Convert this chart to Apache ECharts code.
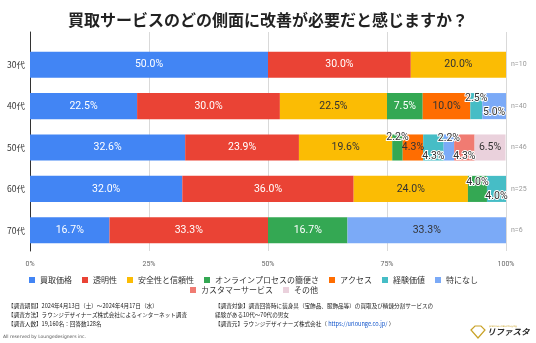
<!DOCTYPE html>
<html>
<head>
<meta charset="utf-8">
<script src="https://cdn.jsdelivr.net/npm/echarts@6/dist/echarts.min.js"></script>
<style>
  html, body { margin: 0; padding: 0; background: #fff; }
  #chart { width: 536px; height: 343px; }
</style>
</head>
<body>
<div id="chart"></div>
<script>
// Age groups (rows, top to bottom) and respondents per group
const ages = ['30代', '40代', '50代', '60代', '70代'];
const sampleSizes = ['n=10', 'n=40', 'n=46', 'n=25', 'n=6'];

// Share of answers per age group (%)
const kaitoriKakaku   = [50.0, 22.5, 32.6, 32.0, 16.7]; // 買取価格
const toumeisei       = [30.0, 30.0, 23.9, 36.0, 33.3]; // 透明性
const anzenShinrai    = [20.0, 22.5, 19.6, 24.0, 0];    // 安全性と信頼性
const onlineKanben    = [0,    7.5,  2.2,  4.0,  16.7]; // オンラインプロセスの簡便さ
const access          = [0,    10.0, 4.3,  0,    0];    // アクセス
const keikenKachi     = [0,    2.5,  4.3,  4.0,  0];    // 経験価値
const tokuniNashi     = [0,    5.0,  2.2,  0,    33.3]; // 特になし
const customerService = [0,    0,    4.3,  0,    0];    // カスタマーサービス
const sonota          = [0,    0,    6.5,  0,    0];    // その他

const xTicks = [0, 25, 50, 75, 100];

const seriesDefs = [
  { name: '買取価格', values: kaitoriKakaku, color: '#4285F4', ink: '#ffffff' },
  { name: '透明性', values: toumeisei, color: '#EA4335', ink: '#ffffff' },
  { name: '安全性と信頼性', values: anzenShinrai, color: '#FBBC04', ink: '#333333' },
  { name: 'オンラインプロセスの簡便さ', values: onlineKanben, color: '#34A853', ink: '#ffffff' },
  { name: 'アクセス', values: access, color: '#FF6D01', ink: '#333333' },
  { name: '経験価値', values: keikenKachi, color: '#46BDC6', ink: '#333333' },
  { name: '特になし', values: tokuniNashi, color: '#7BAAF7', ink: '#333333' },
  { name: 'カスタマーサービス', values: customerService, color: '#F07B72', ink: '#333333' },
  { name: 'その他', values: sonota, color: '#EAD1DC', ink: '#333333' }
];

// Narrow segments get their label shifted up/down so neighbours don't collide
// key: seriesIndex-rowIndex -> vertical offset in px
const labelShift = {
  '5-1': -8, '6-1': 6,
  '3-2': -10, '5-2': 9, '6-2': -9, '7-2': 9,
  '3-3': -7, '5-3': 7
};

const FONT_JP = '"Noto Sans CJK JP", "Noto Sans", sans-serif';
const FONT_NUM = 'Roboto, "Noto Sans", sans-serif';

const series = seriesDefs.map((def, si) => ({
  name: def.name,
  type: 'bar',
  stack: 'total',
  xAxisIndex: 1,
  yAxisIndex: 1,
  barCategoryGap: '37%',
  itemStyle: { color: def.color },
  data: def.values.map((v, ri) => {
    const item = { value: v };
    const shift = labelShift[si + '-' + ri];
    if (shift !== undefined) {
      item.label = {
        offset: [0, shift],
        color: '#333333',
        textBorderColor: '#ffffff',
        textBorderWidth: 2
      };
    }
    return item;
  }),
  label: {
    show: true,
    position: 'inside',
    color: def.ink,
    fontFamily: FONT_NUM,
    fontSize: 10.5,
    formatter: p => (p.value > 0 ? p.value.toFixed(1) + '%' : '')
  },
  emphasis: { disabled: true }
}));

const legendCommon = {
  orient: 'horizontal',
  icon: 'rect',
  itemWidth: 6,
  itemHeight: 6,
  itemGap: 10,
  padding: 0,
  selectedMode: false,
  textStyle: { fontFamily: FONT_JP, fontSize: 8, color: '#333' }
};

const chart = echarts.init(document.getElementById('chart'), null, { renderer: 'canvas' });

chart.setOption({
  animation: false,
  backgroundColor: '#ffffff',
  title: {
    text: '買取サービスのどの側面に改善が必要だと感じますか？',
    left: 'center',
    top: 7,
    textStyle: { fontFamily: FONT_JP, fontSize: 16, fontWeight: 'bold', color: '#222' }
  },
  legend: [
    Object.assign({}, legendCommon, {
      left: 29, top: 276,
      data: seriesDefs.slice(0, 7).map(d => d.name)
    }),
    Object.assign({}, legendCommon, {
      left: 190, top: 286,
      data: seriesDefs.slice(7).map(d => d.name)
    })
  ],
  grid: [
    { left: 30, right: 30, top: 32, bottom: 92 },   // frame: gridlines + baseline
    { left: 30, right: 30, top: 44, bottom: 92 }    // bars
  ],
  xAxis: [
    {
      gridIndex: 0, type: 'value', min: xTicks[0], max: xTicks[xTicks.length - 1], interval: 25,
      axisLine: { show: false }, axisTick: { show: false }, axisLabel: { show: false },
      splitLine: { show: true, lineStyle: { color: '#d9d9d9', width: 1 } }
    },
    {
      gridIndex: 1, type: 'value', min: xTicks[0], max: xTicks[xTicks.length - 1], interval: 25,
      axisLine: { show: false }, axisTick: { show: false },
      splitLine: { show: false },
      axisLabel: { formatter: '{value}%', fontFamily: FONT_NUM, fontSize: 7, color: '#666', margin: 10 }
    }
  ],
  yAxis: [
    {
      gridIndex: 0, type: 'category', data: [''],
      axisLine: { show: true, lineStyle: { color: '#333', width: 1 } },
      axisTick: { show: false }, axisLabel: { show: false }, splitLine: { show: false }
    },
    {
      gridIndex: 1, type: 'category', data: ages, inverse: true,
      axisLine: { show: false }, axisTick: { show: false },
      axisLabel: { fontFamily: FONT_JP, fontSize: 8.5, color: '#333', margin: 5 }
    },
    {
      gridIndex: 1, type: 'category', data: sampleSizes, inverse: true, position: 'right',
      axisLine: { show: false }, axisTick: { show: false },
      axisLabel: { fontFamily: FONT_NUM, fontSize: 7, color: '#999', margin: 5 }
    }
  ],
  series: series,
  graphic: [
    {
      type: 'text', left: 8, top: 301,
      style: {
        text: '【調査期間】2024年4月13日（土）～2024年4月17日（水）\n【調査方法】ラウンジデザイナーズ株式会社によるインターネット調査\n【調査人数】19,160名：回答数128名',
        font: '5.6px "Noto Sans CJK JP"', lineHeight: 9, fill: '#222'
      }
    },
    {
      type: 'text', left: 215, top: 301,
      style: {
        text: '【調査対象】調査回答時に装身具（宝飾品、服飾品等）の買取及び精錬分割サービスの\n経験がある10代〜70代の男女\n{a|【調査元】ラウンジデザイナーズ株式会社（ }{u|https://urlounge.co.jp/}{a| ）}',
        font: '5.6px "Noto Sans CJK JP"', lineHeight: 9, fill: '#222',
        rich: {
          a: { font: '5.6px "Noto Sans CJK JP"', fill: '#222', lineHeight: 9 },
          u: { font: '5.6px "Noto Sans CJK JP"', fill: '#1155cc', lineHeight: 9 }
        }
      }
    },
    {
      type: 'text', left: 3, top: 334,
      style: { text: 'All reserved by Loungedesigners inc.', font: '4.5px "DejaVu Sans"', fill: '#555' }
    },
    // brand mark
    {
      type: 'polygon', shape: { points: [[471, 330], [475, 326], [481, 326], [485, 330], [478, 338]] },
      style: { fill: '#fff', stroke: '#c9a227', lineWidth: 1.2 }
    },
    {
      type: 'text', left: 487, top: 328,
      style: { text: 'リファスタ', font: 'italic bold 8.5px "Noto Sans CJK JP"', fill: '#2a2a2a' }
    },
    {
      type: 'text', left: 489, top: 325,
      style: { text: 'precious metal buying', font: '2.5px "DejaVu Sans"', fill: '#c9a227' }
    }
  ]
});
</script>
</body>
</html>
